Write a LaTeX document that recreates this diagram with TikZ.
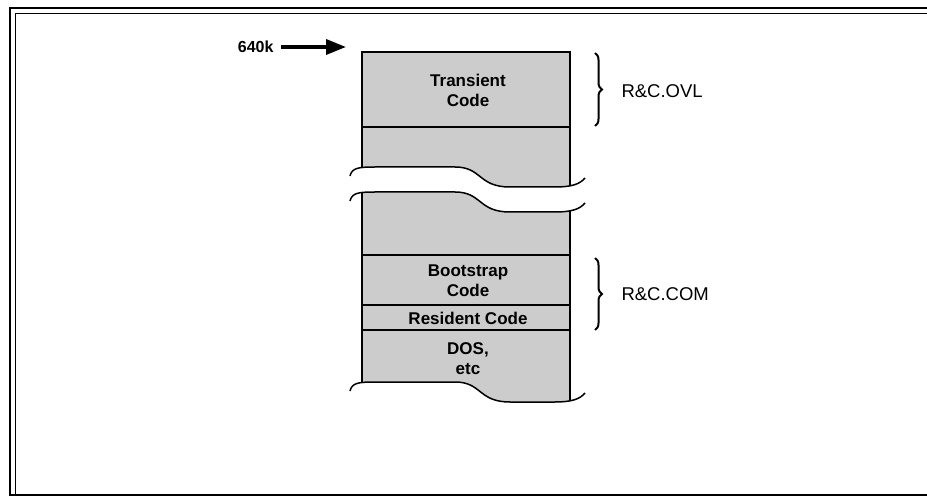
\documentclass[tikz,border=0pt]{standalone}
\usepackage{fontspec}
\setmainfont{Liberation Sans}
\usetikzlibrary{arrows.meta}
\usetikzlibrary{decorations.pathreplacing}

\tikzset{
  memwave/.style={insert path={(350,#1) .. controls (352,#1-8) and (358,#1-9) .. (375,#1-9)
      -- (455,#1-9) .. controls (482,#1-9) and (478,#1+11) .. (510,#1+11)
      -- (555,#1+11) .. controls (572,#1+11) and (580,#1+8) .. (585,#1+2)}},
  memfill/.style={fill=black!20, draw=black, line width=1.5pt},
  memline/.style={line width=1.5pt},
  memtext/.style={font=\fontsize{17}{20}\selectfont\bfseries, align=center},
  sidelabel/.style={font=\fontsize{18.5}{20}\selectfont, anchor=west},
  membrace/.style={decorate, decoration={brace, amplitude=7pt}, line width=2pt}
}

\begin{document}
\begin{tikzpicture}[x=1pt, y=-1pt]
    \useasboundingbox (0,0) rectangle (927,497);

    % frame
    \draw[line width=1.3pt] (927,8) -- (10,8) -- (10,495) -- (927,495);
    \draw[line width=0.9pt] (927,13) -- (15,13) -- (15,494);

    % upper part of the memory map
    \begin{scope}
        \clip[memwave=176] -- (585,40) -- (350,40) -- cycle;
        \filldraw[memfill] (362,52) rectangle (570,260);
    \end{scope}
    \draw[memline] (362,127) -- (570,127);

    % lower part of the memory map
    \begin{scope}
        \clip[memwave=201] -- (585,450) -- (350,450) -- cycle;
        \begin{scope}
            \clip[memwave=391] -- (585,150) -- (350,150) -- cycle;
            \filldraw[memfill] (362,150) rectangle (570,450);
        \end{scope}
    \end{scope}
    \draw[memline] (362,255) -- (570,255);
    \draw[memline] (362,305) -- (570,305);
    \draw[memline] (362,330) -- (570,330);

    % breaks
    \draw[memline, memwave=176];
    \draw[memline, memwave=201];
    \draw[memline, memwave=391];

    % box texts
    \node[memtext] (transient) at (468,90) {Transient\\Code};
    \node[memtext] (bootstrap) at (468,281) {Bootstrap\\Code};
    \node[memtext] (resident) at (468,318) {Resident Code};
    \node[memtext] (dos) at (468,359) {DOS,\\etc};

    % top of memory
    \node[font=\fontsize{16}{18}\selectfont\bfseries, anchor=east] (top) at (277,47) {640k};
    \coordinate (topend) at (346,47);
    \draw[line width=3.5pt, -{Triangle[length=20pt, width=15pt]}] (top.east) ++(4,0) -- (topend);

    % braces
    \coordinate (ovltop) at (595,53);
    \coordinate (ovlbot) at (595,126);
    \coordinate (comtop) at (595,258);
    \coordinate (combot) at (595,330);
    \draw[membrace] (ovltop) -- (ovlbot);
    \draw[membrace] (comtop) -- (combot);
    \node[sidelabel] (ovl) at (618,91) {R\&C.OVL};
    \node[sidelabel] (com) at (618,294) {R\&C.COM};

\end{tikzpicture}
\end{document}
